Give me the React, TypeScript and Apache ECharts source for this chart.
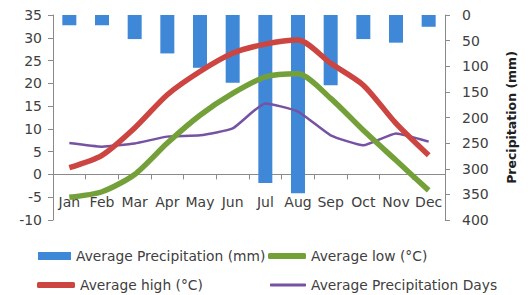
import React, { useEffect, useRef } from 'react';
import * as echarts from 'echarts';

const months = ['Jan', 'Feb', 'Mar', 'Apr', 'May', 'Jun', 'Jul', 'Aug', 'Sep', 'Oct', 'Nov', 'Dec'];
const precipitation = [20, 20, 47, 75, 103, 132, 328, 348, 137, 47, 54, 23];
const avgLow = [-5, -3.8, 0, 6.9, 13, 17.8, 21.4, 22.1, 16.7, 9.7, 3.1, -3.5];
const avgHigh = [1.5, 4.2, 10.2, 17.5, 22.6, 26.6, 28.6, 29.5, 24.4, 19.6, 11.2, 4.2];
const precipDays = [6.9, 6.1, 6.8, 8.3, 8.6, 10.1, 15.6, 13.8, 8.6, 6.4, 9, 7.2];

const tempAxis = { min: -10, max: 35, interval: 5 };
const precipAxis = { min: 0, max: 400, interval: 50 };

const names = {
  precip: 'Average Precipitation (mm)',
  low: 'Average low (°C)',
  high: 'Average high (°C)',
  days: 'Average Precipitation Days',
};

const FONT = 'DejaVu Sans';
const TXT = '#404040';
const AXIS = '#8a8a8a';

export default function App() {
  const ref = useRef<HTMLDivElement>(null);
  useEffect(() => {
    document.body.style.margin = '0';
    const chart = echarts.init(ref.current!, null, { renderer: 'svg' });
    const legendText = { fontFamily: FONT, fontSize: 13.8, color: TXT };
    chart.setOption({
      animation: false,
      backgroundColor: '#ffffff',
      grid: { left: 53, right: 87, top: 15, bottom: 75 },
      legend: [
        { data: [{ name: names.precip, icon: 'rect' }], left: 38, top: 249, itemWidth: 33, itemHeight: 8, textStyle: legendText, padding: 0 },
        { data: [{ name: names.low, icon: 'roundRect' }], left: 268, top: 249, itemWidth: 38, itemHeight: 6, textStyle: legendText, padding: 0 },
        { data: [{ name: names.high, icon: 'roundRect' }], left: 37, top: 278, itemWidth: 38, itemHeight: 6, textStyle: legendText, padding: 0 },
        { data: [{ name: names.days, icon: 'roundRect' }], left: 270, top: 278, itemWidth: 36, itemHeight: 3, textStyle: legendText, padding: 0 },
      ],
      xAxis: {
        type: 'category',
        data: months,
        boundaryGap: true,
        axisLine: { onZero: true, onZeroAxisIndex: 0, lineStyle: { color: AXIS } },
        axisTick: { show: true, inside: false, length: 5, lineStyle: { color: AXIS } },
        axisLabel: { margin: -18, verticalAlign: 'middle', fontFamily: FONT, fontSize: 14, color: TXT, interval: 0 },
      },
      yAxis: [
        {
          type: 'value',
          position: 'left',
          ...tempAxis,
          axisLine: { show: true, lineStyle: { color: AXIS } },
          axisTick: { show: true, length: 5, lineStyle: { color: AXIS } },
          splitLine: { show: false },
          axisLabel: { margin: 11, fontFamily: FONT, fontSize: 14, color: TXT },
        },
        {
          type: 'value',
          position: 'right',
          inverse: true,
          ...precipAxis,
          name: 'Precipitation (mm)',
          nameLocation: 'middle',
          nameRotate: 90,
          nameGap: 60,
          nameTextStyle: { fontFamily: FONT, fontSize: 12.5, fontWeight: 'bold', color: '#202020' },
          axisLine: { show: true, lineStyle: { color: AXIS } },
          axisTick: { show: true, length: 5, lineStyle: { color: AXIS } },
          splitLine: { show: false },
          axisLabel: { margin: 17, fontFamily: FONT, fontSize: 14, color: TXT },
        },
      ],
      series: [
        {
          name: names.precip,
          type: 'bar',
          yAxisIndex: 1,
          data: precipitation,
          barWidth: 14,
          itemStyle: { color: '#3f88d8' },
        },
        {
          name: names.days,
          type: 'line',
          yAxisIndex: 0,
          data: precipDays,
          smooth: 0.15,
          symbol: 'none',
          lineStyle: { width: 2.5, color: '#7652a2' },
          itemStyle: { color: '#7652a2' },
        },
        {
          name: names.low,
          type: 'line',
          yAxisIndex: 0,
          data: avgLow,
          smooth: 0.25,
          symbol: 'none',
          lineStyle: { width: 5.5, color: '#74a03a' },
          itemStyle: { color: '#74a03a' },
        },
        {
          name: names.high,
          type: 'line',
          yAxisIndex: 0,
          data: avgHigh,
          smooth: 0.25,
          symbol: 'none',
          lineStyle: { width: 5.5, color: '#cc4540' },
          itemStyle: { color: '#cc4540' },
        },
      ],
    });
    return () => chart.dispose();
  }, []);
  return <div ref={ref} style={{ width: 532, height: 295 }} />;
}
